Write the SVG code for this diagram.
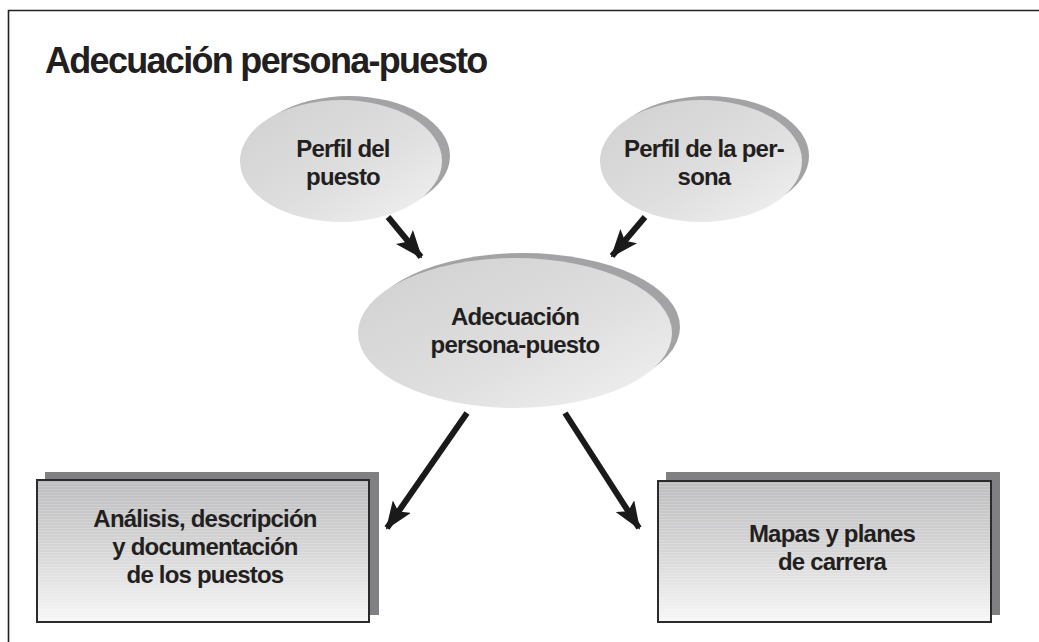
<svg xmlns="http://www.w3.org/2000/svg" width="1039" height="642" viewBox="0 0 1039 642">
<style>
.t{font-family:"Liberation Sans",Arial,Helvetica,sans-serif;font-weight:bold;fill:#231f20;text-anchor:middle;font-size:24px;letter-spacing:-0.8px}
.title{font-family:"Liberation Sans",Arial,Helvetica,sans-serif;font-weight:bold;fill:#231f20;font-size:36px;letter-spacing:-1.7px}
.eshadow{fill:#a3a3a5}
.ell{fill:url(#ellg)}
.rshadow{fill:#808083}
.box{fill:url(#boxg);stroke:#2b2b2b;stroke-width:2}
.lines{fill:url(#hl)}
.conn{stroke:#1a1a1a;stroke-width:6;fill:none;marker-end:url(#ah)}
</style>
<defs>
<linearGradient id="ellg" x1="0" y1="0" x2="1" y2="1">
<stop offset="0" stop-color="#d0d0d1"/>
<stop offset="0.55" stop-color="#dedede"/>
<stop offset="1" stop-color="#f2f2f2"/>
</linearGradient>
<linearGradient id="boxg" x1="0" y1="0" x2="0" y2="1">
<stop offset="0" stop-color="#bdbdbf"/>
<stop offset="0.5" stop-color="#d6d6d7"/>
<stop offset="1" stop-color="#f7f7f7"/>
</linearGradient>
<pattern id="hl" width="6" height="3" patternUnits="userSpaceOnUse">
<rect x="0" y="0" width="6" height="1" fill="#ffffff" fill-opacity="0.18"/>
</pattern>
<marker id="ah" viewBox="0 0 28 22" refX="26" refY="11" markerWidth="28" markerHeight="22" markerUnits="userSpaceOnUse" orient="auto">
<path d="M0,0 L28,11 L0,22 L6,11 Z" fill="#1a1a1a"/>
</marker>
</defs>
<rect x="0" y="0" width="1039" height="642" fill="#ffffff"/>
<path d="M8.5,642 L8.5,10.5 L1039,10.5" fill="none" stroke="#222" stroke-width="1.6"/>
<text class="title" x="45" y="73">Adecuación persona-puesto</text>

<g id="node-perfil-puesto">
<ellipse class="eshadow" cx="349" cy="156" rx="101" ry="60"/>
<ellipse class="ell" cx="341" cy="161" rx="101" ry="61"/>
<text class="t" x="343" y="157">Perfil del</text>
<text class="t" x="343" y="185">puesto</text>
</g>

<g id="node-perfil-persona">
<ellipse class="eshadow" cx="708" cy="156" rx="101" ry="60"/>
<ellipse class="ell" cx="701" cy="161" rx="101" ry="61"/>
<text class="t" x="704" y="157">Perfil de la per-</text>
<text class="t" x="704" y="185">sona</text>
</g>

<g id="node-adecuacion">
<ellipse class="eshadow" cx="523" cy="327" rx="157" ry="74"/>
<ellipse class="ell" cx="515" cy="333" rx="157" ry="75"/>
<text class="t" x="515" y="325">Adecuación</text>
<text class="t" x="515" y="353">persona-puesto</text>
</g>

<g id="node-analisis">
<rect class="rshadow" x="45" y="472" width="334" height="143"/>
<rect class="box" x="37" y="480" width="332" height="142"/>
<rect class="lines" x="38" y="481" width="330" height="140"/>
<text class="t" x="205" y="527">Análisis, descripción</text>
<text class="t" x="205" y="555">y documentación</text>
<text class="t" x="205" y="583">de los puestos</text>
</g>

<g id="node-mapas">
<rect class="rshadow" x="666" y="472" width="334" height="143"/>
<rect class="box" x="658" y="481" width="333" height="141"/>
<rect class="lines" x="659" y="482" width="331" height="139"/>
<text class="t" x="832" y="542">Mapas y planes</text>
<text class="t" x="832" y="570">de carrera</text>
</g>

<g id="connectors">
<line class="conn" x1="388" y1="217" x2="421" y2="257"/>
<line class="conn" x1="645" y1="217" x2="612" y2="256"/>
<line class="conn" x1="467" y1="413" x2="387" y2="528"/>
<line class="conn" x1="565" y1="413" x2="639" y2="528"/>
</g>
</svg>
